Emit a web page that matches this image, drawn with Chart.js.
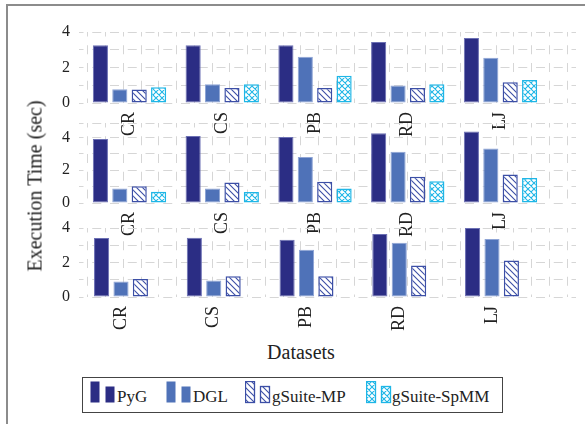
<!DOCTYPE html>
<html>
<head>
<meta charset="utf-8">
<script src="https://cdn.jsdelivr.net/npm/chart.js@4"></script>
<style>
  body { margin: 0; width: 585px; height: 424px; overflow: hidden; background: #fff; position: relative;
         font-family: "Liberation Serif", serif; color: #222; }
  .row { position: absolute; left: 0; }
  .frame { position: absolute; left: 6px; top: 4px; width: 620px; height: 440px;
           border-left: 2px solid #8c8c8c; border-top: 2px solid #8c8c8c; }
  #ytitle { position: absolute; left: 35px; top: 186px; transform: translate(-50%, -50%) rotate(-90deg);
            white-space: nowrap; font-size: 20px; }
  #xtitle { position: absolute; left: 301px; top: 352px; transform: translate(-50%, -50%);
            white-space: nowrap; font-size: 20px; }
  #legend { position: absolute; left: 82px; top: 377px; width: 421px; height: 36px;
            border: 1px solid #444; box-sizing: border-box; }
  #legend canvas { position: absolute; top: 3px; }
  #legend span { position: absolute; top: 10px; font-size: 17px; line-height: 17px; white-space: nowrap; }
</style>
</head>
<body>
<div class="frame"></div>
<canvas id="row1" class="row"></canvas>
<canvas id="row2" class="row"></canvas>
<canvas id="row3" class="row"></canvas>
<div id="ytitle">Execution Time (sec)</div>
<div id="xtitle">Datasets</div>
<div id="legend"></div>
<script>
// categories and series
const datasetNames = ['CR', 'CS', 'PB', 'RD', 'LJ'];
const seriesNames = ['PyG', 'DGL', 'gSuite-MP', 'gSuite-SpMM'];
const yTickLabels = [0, 2, 4];
const yGridValues = [0, 1, 2, 3, 4];

// top panel
const pygTop  = [3.26, 3.26, 3.26, 3.44, 3.66];
const dglTop  = [0.78, 1.06, 2.60, 0.98, 2.55];
const mpTop   = [0.76, 0.84, 0.84, 0.84, 1.17];
const spmmTop = [0.89, 1.06, 1.53, 1.06, 1.30];

// middle panel
const pygMid  = [3.90, 4.08, 4.02, 4.25, 4.36];
const dglMid  = [0.88, 0.88, 2.80, 3.13, 3.33];
const mpMid   = [1.02, 1.25, 1.29, 1.60, 1.74];
const spmmMid = [0.69, 0.67, 0.88, 1.33, 1.53];

// bottom panel (no SpMM)
const pygBot  = [3.42, 3.44, 3.32, 3.65, 4.00];
const dglBot  = [0.90, 0.96, 2.74, 3.15, 3.36];
const mpBot   = [1.04, 1.20, 1.20, 1.83, 2.12];

const gridColor = '#d6d6d6';
const textColor = '#222';
const mpColor = '#3c4fa6';
const spmmColor = '#1fb6e6';
const padTop = 12;

function hatch(color, cross) {
  const s = 6;
  const c = document.createElement('canvas');
  c.width = s; c.height = s;
  const g = c.getContext('2d');
  g.fillStyle = '#fff';
  g.fillRect(0, 0, s, s);
  g.strokeStyle = color;
  g.lineWidth = 1.1;
  g.beginPath();
  g.moveTo(-1, -1); g.lineTo(s + 1, s + 1);
  g.moveTo(s - 1, -1); g.lineTo(s + 1, 1);
  g.moveTo(-1, s - 1); g.lineTo(1, s + 1);
  if (cross) {
    g.moveTo(-1, s + 1); g.lineTo(s + 1, -1);
    g.moveTo(-1, 1); g.lineTo(1, -1);
    g.moveTo(s - 1, s + 1); g.lineTo(s + 1, s - 1);
  }
  g.stroke();
  return g.createPattern(c, 'repeat');
}

const styles = [
  { backgroundColor: '#2b2d84', borderColor: '#6c70b4', borderWidth: 1 },
  { backgroundColor: '#4f72b8', borderColor: '#8fa5d6', borderWidth: 1 },
  { backgroundColor: hatch(mpColor, false), borderColor: mpColor, borderWidth: 1.5 },
  { backgroundColor: hatch(spmmColor, true), borderColor: spmmColor, borderWidth: 1.5 }
];

function noPad(s) {
  s.paddingTop = 0; s.paddingBottom = 0; s.paddingLeft = 0; s.paddingRight = 0;
}

// plotTop / plotBottom: page y of the value axis ends
function makeRow(id, plotTop, plotBottom, ymax, values, xmin, xmax, catPct) {
  const canvas = document.getElementById(id);
  canvas.width = 585;
  canvas.height = padTop + (plotBottom - plotTop) + 40;
  canvas.style.top = (plotTop - padTop) + 'px';
  new Chart(canvas, {
    type: 'bar',
    data: {
      datasets: values.map((vals, k) => Object.assign({
        label: seriesNames[k],
        data: vals.map((v, i) => ({ x: i, y: v })),
        borderSkipped: false,
        categoryPercentage: catPct,
        barPercentage: 0.78
      }, styles[k]))
    },
    options: {
      responsive: false,
      animation: false,
      devicePixelRatio: 1,
      layout: { padding: { top: padTop, right: 9, left: 0, bottom: 0 } },
      plugins: { legend: { display: false }, tooltip: { enabled: false } },
      scales: {
        x: {
          type: 'linear', min: xmin, max: xmax, bounds: 'data', offset: false,
          afterBuildTicks: s => { s.ticks = datasetNames.map((_, i) => ({ value: i })); },
          ticks: {
            autoSkip: false, minRotation: 90, maxRotation: 90, padding: 9,
            color: textColor, font: { family: 'Liberation Serif', size: 18 },
            callback: v => datasetNames[v] ?? ''
          },
          grid: { display: false, drawTicks: false, offset: false },
          border: { display: false },
          afterFit: s => { s.height = 40; noPad(s); }
        },
        x2: {
          type: 'linear', position: 'bottom', min: 0, max: 28, offset: false,
          ticks: { display: false, stepSize: 1 },
          grid: { color: gridColor, drawTicks: false },
          border: { display: false, dash: [9, 8.75], dashOffset: 4.5 },
          afterFit: s => { s.height = 0; noPad(s); }
        },
        y: {
          min: 0, max: ymax, bounds: 'data',
          afterBuildTicks: s => {
            const vals = yGridValues.filter(v => v <= ymax);
            if (ymax > vals[vals.length - 1]) vals.push(ymax);
            s.ticks = vals.map(v => ({ value: v }));
          },
          ticks: {
            padding: 9, color: textColor, autoSkip: false,
            font: { family: 'Liberation Serif', size: 16 },
            callback: v => yTickLabels.includes(v) ? String(v) : ''
          },
          grid: { color: gridColor, drawTicks: false },
          border: { display: false, dash: [9, 8.75], dashOffset: 4.5 },
          afterFit: s => { s.width = 79; noPad(s); }
        }
      }
    }
  });
}

makeRow('row1', 32, 103, 4, [pygTop, dglTop, mpTop, spmmTop], -0.5445, 4.814, 0.8367);
makeRow('row2', 123, 203, 4.88, [pygMid, dglMid, mpMid, spmmMid], -0.5445, 4.814, 0.8367);
makeRow('row3', 228, 297, 4, [pygBot, dglBot, mpBot], -0.4528, 4.9057, 0.6275);

// legend
const legend = document.getElementById('legend');
const swatchLeft = [7, 83, 162, 283];
const textLeft = [34, 110, 189, 309];
seriesNames.forEach((name, k) => {
  const c = document.createElement('canvas');
  c.width = 26; c.height = 24;
  c.style.left = swatchLeft[k] + 'px';
  const g = c.getContext('2d');
  const st = styles[k];
  [[0.5, 0.5, 9, 21], [15.5, 5.5, 9, 16]].forEach(r => {
    g.fillStyle = st.backgroundColor;
    g.fillRect(r[0], r[1], r[2], r[3]);
    if (k >= 2) {
      g.strokeStyle = st.borderColor;
      g.lineWidth = 1.3;
      g.strokeRect(r[0], r[1], r[2], r[3]);
    }
  });
  legend.appendChild(c);
  const t = document.createElement('span');
  t.textContent = name;
  t.style.left = textLeft[k] + 'px';
  legend.appendChild(t);
});
</script>
</body>
</html>
